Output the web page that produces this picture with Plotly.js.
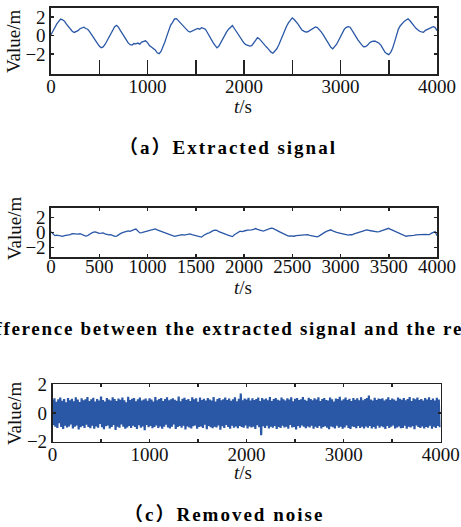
<!DOCTYPE html>
<html>
<head>
<meta charset="utf-8">
<script src="https://cdn.plot.ly/plotly-3.0.1.min.js"></script>
<style>
html,body{margin:0;padding:0;background:#fff;}
#chart{width:461px;height:527px;}
</style>
</head>
<body>
<div id="chart"></div>
<script>
// ---- data ----
const dtA = 20; // s, sampling step of panel (a)
const extractedSignal = [
 0.10,0.52,0.85,1.28,1.55,1.80,1.72,1.58,1.25,0.95,
 0.72,0.48,0.35,0.42,0.55,0.75,0.85,0.92,0.78,0.70,
 0.45,0.18,-0.18,-0.50,-0.85,-1.12,-1.30,-1.22,-0.95,-0.58,
 -0.15,0.30,0.68,0.98,1.12,0.90,0.55,0.20,-0.20,-0.52,
 -0.78,-0.98,-1.02,-0.85,-0.88,-0.80,-0.92,-0.70,-0.62,-0.55,
 -0.75,-1.08,-1.22,-1.38,-1.55,-1.85,-1.95,-1.70,-1.25,-0.68,
 -0.05,0.60,1.15,1.45,1.82,1.85,1.62,1.38,1.12,0.88,
 0.68,0.50,0.40,0.48,0.62,0.72,0.78,0.70,0.86,0.80,
 0.70,0.35,-0.05,-0.42,-0.75,-1.05,-1.32,-1.12,-0.72,-0.30,
 0.05,0.42,0.70,0.95,1.10,0.78,0.45,0.12,-0.25,-0.55,
 -0.80,-0.98,-1.05,-1.12,-1.08,-0.80,-0.55,-0.22,-0.35,-0.62,
 -0.85,-1.08,-1.30,-1.55,-1.78,-1.90,-1.70,-1.42,-1.00,-0.45,
 0.05,0.55,1.00,1.38,1.72,1.92,1.75,1.52,1.25,0.92,
 0.62,0.50,0.40,0.42,0.55,0.72,0.82,0.95,0.88,0.70,
 0.42,0.12,-0.20,-0.60,-0.95,-1.25,-1.42,-1.18,-0.92,-0.52,
 -0.10,0.32,0.70,0.90,0.98,0.92,0.62,0.30,-0.10,-0.45,
 -0.75,-1.00,-1.20,-1.18,-1.05,-0.78,-0.65,-0.58,-0.60,-0.68,
 -0.82,-1.05,-1.40,-1.78,-1.95,-2.05,-1.80,-1.35,-0.70,0.05,
 0.72,1.08,1.35,1.55,1.70,1.82,1.62,1.35,1.05,0.82,
 0.65,0.48,0.42,0.38,0.58,0.70,0.78,0.88,0.98,0.90,
 0.55
];

const dtB = 20;
const differenceSignal = [
 0.10,-0.20,-0.42,-0.36,-0.40,-0.50,-0.52,-0.41,-0.38,-0.30,
 -0.28,-0.15,-0.18,-0.26,-0.22,-0.17,-0.25,-0.38,-0.48,-0.42,
 -0.30,-0.08,0.05,0.08,-0.02,-0.12,-0.10,-0.07,-0.18,-0.30,
 -0.32,-0.28,-0.40,-0.52,-0.48,-0.26,-0.15,-0.02,0.05,0.15,
 0.22,0.16,0.30,0.38,0.45,0.18,-0.05,-0.02,0.05,0.12,
 0.15,0.26,0.30,0.36,0.48,0.35,0.25,0.20,0.12,0.02,
 -0.15,-0.22,-0.35,-0.46,-0.52,-0.45,-0.42,-0.30,-0.28,-0.36,
 -0.30,-0.22,-0.20,-0.30,-0.35,-0.40,-0.48,-0.55,-0.62,-0.40,
 -0.22,-0.12,-0.05,0.12,0.25,0.32,0.28,0.10,-0.02,-0.12,
 -0.25,-0.30,-0.38,-0.48,-0.55,-0.30,-0.10,0.06,0.18,0.12,
 0.22,0.26,0.30,0.28,0.35,0.42,0.52,0.40,0.38,0.26,
 0.18,0.30,0.40,0.50,0.58,0.55,0.45,0.32,0.15,0.02,
 -0.10,-0.22,-0.35,-0.48,-0.45,-0.52,-0.50,-0.42,-0.40,-0.33,
 -0.30,-0.36,-0.32,-0.30,-0.38,-0.45,-0.48,-0.52,-0.58,-0.45,
 -0.25,-0.08,0.05,0.18,0.28,0.35,0.20,0.08,0.02,-0.04,
 -0.10,-0.18,-0.25,-0.34,-0.35,-0.28,-0.30,-0.18,-0.12,-0.02,
 0.05,0.15,0.22,0.30,0.35,0.26,0.20,0.10,0.05,0.08,
 0.10,0.18,0.25,0.36,0.45,0.55,0.40,0.28,0.15,0.05,
 -0.08,-0.22,-0.30,-0.42,-0.50,-0.44,-0.45,-0.40,-0.38,-0.32,
 -0.30,-0.24,-0.20,-0.26,-0.25,-0.30,-0.30,-0.12,-0.05,0.10,
 -0.42
];

const dtC = 10;
const removedNoise = [
 0.92,-0.85,1.02,-0.96,0.78,-1.05,0.95,-0.72,1.08,-0.98,0.85,-1.12,0.97,-0.88,0.74,-1.01,1.05,-0.93,0.88,-0.79,
 0.99,-1.08,0.82,-0.95,1.10,-0.86,0.93,-1.15,0.76,-0.99,1.03,-0.90,0.89,-1.04,0.96,-0.81,1.12,-0.97,0.84,-1.06,
 0.95,-0.89,1.06,-1.10,0.80,-0.94,0.98,-1.02,0.87,-0.76,1.15,-0.99,0.91,-1.13,0.79,-0.92,1.04,-0.87,0.94,-1.07,
 0.86,-0.98,1.09,-0.84,0.97,-1.18,0.83,-0.95,1.01,-1.03,0.92,-0.80,1.07,-0.96,0.88,-1.09,0.75,-1.00,1.13,-0.91,
 0.90,-1.05,0.99,-0.88,1.04,-0.97,0.81,-1.11,0.96,-0.85,1.08,-1.02,0.87,-0.94,0.93,-1.20,1.00,-0.83,0.85,-0.99,
 1.02,-0.91,0.94,-1.06,0.79,-0.98,1.11,-0.87,0.89,-1.04,0.98,-0.93,1.05,-1.10,0.83,-0.96,0.97,-0.82,1.09,-1.01,
 0.88,-1.08,0.96,-0.95,1.03,-0.79,0.92,-1.12,0.85,-0.97,1.14,-0.90,0.81,-1.03,0.99,-0.88,1.06,-1.15,0.90,-0.94,
 0.97,-1.00,0.84,-1.07,1.10,-0.92,0.95,-0.86,1.02,-1.09,0.78,-0.98,1.07,-0.93,0.91,-1.04,0.99,-0.81,0.87,-1.13,
 1.05,-0.90,0.93,-0.99,0.86,-1.06,1.12,-0.95,0.80,-1.01,0.98,-0.87,1.04,-1.17,0.89,-0.92,0.95,-1.05,1.08,-0.84,
 0.91,-0.97,1.00,-1.10,0.85,-0.89,0.96,-1.02,1.09,-0.94,0.82,-1.06,0.99,-0.91,1.36,-0.98,0.88,-1.03,1.01,-0.86,
 0.94,-1.08,1.06,-0.93,0.87,-1.00,1.03,-0.96,0.90,-1.11,0.97,-0.85,1.08,-0.99,0.83,-1.55,1.05,-0.92,0.93,-1.04,
 1.00,-0.88,0.89,-1.07,1.11,-0.95,0.84,-1.02,0.98,-0.90,1.04,-1.12,0.92,-0.97,0.86,-1.05,1.07,-0.89,0.95,-1.01,
 0.87,-0.96,1.02,-1.09,0.93,-0.84,1.09,-1.00,0.81,-0.98,0.99,-1.14,1.05,-0.91,0.90,-1.03,0.96,-0.87,1.12,-0.95,
 0.92,-1.06,0.85,-0.93,1.06,-1.01,0.97,-0.88,0.88,-1.10,1.03,-0.96,0.94,-1.04,1.10,-0.90,0.83,-1.08,0.98,-0.97,
 1.04,-0.92,0.91,-1.03,0.86,-1.13,1.08,-0.94,0.95,-0.99,0.80,-1.07,1.01,-0.89,0.97,-1.02,1.13,-0.95,0.87,-1.09,
 0.95,-1.00,1.07,-0.86,0.90,-1.05,0.99,-1.11,0.84,-0.93,1.05,-0.98,0.92,-1.06,1.02,-0.91,0.88,-1.04,1.09,-0.96,
 0.89,-1.08,0.98,-0.94,1.04,-1.02,1.22,-0.90,0.93,-1.07,0.86,-0.97,1.06,-1.10,0.91,-0.88,1.00,-1.03,0.97,-0.92,
 1.03,-0.99,0.87,-1.12,0.96,-0.91,1.10,-1.05,0.90,-0.96,1.01,-0.87,0.94,-1.08,0.85,-1.00,1.07,-0.93,0.99,-1.06,
 0.92,-1.04,1.05,-0.89,0.88,-1.09,0.97,-0.95,1.11,-1.01,0.83,-0.92,1.02,-1.13,0.95,-0.86,1.08,-0.98,0.90,-1.05,
 0.98,-0.93,0.86,-1.07,1.04,-0.97,0.93,-1.02,1.09,-0.88,0.91,-1.10,1.00,-0.95,0.87,-1.04,1.06,-0.90,0.94,-0.99
];

const xTickVals = [0,500,1000,1500,2000,2500,3000,3500,4000];
const xTickTextSparse = ['0','','1000','','2000','','3000','','4000'];
const xTickTextFull = ['0','500','1000','1500','2000','2500','3000','3500','4000'];
const yTickVals = [-2,0,2];

const yTitle = 'Value/m';
const xTitle = '<i>t</i>/s';
const captions = ['（a）Extracted signal',
  '（b）Difference between the extracted signal and the real signal',
  '（c）Removed noise'];

// ---- build ----
const W = 461, H = 527;
const FONT = '"Liberation Serif", "Times New Roman", Times, serif';
const LINE = '#2a57a6';
const AX = '#222';
function times(n, dt){ const t=[]; for(let i=0;i<n;i++) t.push(i*dt); return t; }
function px(x){ return x/W; }
function py(y){ return 1 - y/H; }

const traces = [
  {x: times(extractedSignal.length, dtA), y: extractedSignal, xaxis:'x', yaxis:'y', type:'scatter', mode:'lines', line:{color:LINE, width:1.3}},
  {x: times(differenceSignal.length, dtB), y: differenceSignal, xaxis:'x2', yaxis:'y2', type:'scatter', mode:'lines', line:{color:LINE, width:1.3}},
  {x: times(removedNoise.length, dtC), y: removedNoise, xaxis:'x3', yaxis:'y3', type:'scatter', mode:'lines', line:{color:LINE, width:2.2}}
];

const tickfont = {family: FONT, size: 19, color: '#111'};
function xAx(dom, anchor, text, ticklen, standoff){
  return {domain: dom, anchor: anchor, range: [0,4000], tickmode:'array', tickvals: xTickVals, ticktext: text,
    ticks:'inside', ticklen: ticklen, tickwidth:1.5, tickcolor: AX, showline:true, linecolor: AX, linewidth:1.6,
    mirror: ticklen > 5 ? true : 'ticks', showgrid:false, zeroline:false, tickfont: tickfont, fixedrange:true,
    ticklabelstandoff: standoff};
}
function yAx(dom, anchor, range){
  return {domain: dom, anchor: anchor, range: range, tickmode:'array', tickvals: yTickVals,
    ticks:'inside', ticklen:3, tickwidth:1.5, tickcolor: AX, showline:true, linecolor: AX, linewidth:1.6,
    mirror:'ticks', showgrid:false, zeroline:false, tickfont: tickfont, fixedrange:true};
}
const domAx = [px(51), px(437)];
const domCx = [px(52.5), px(440.7)];

const layout = {
  width: W, height: H, margin:{l:0,r:0,t:0,b:0}, showlegend:false,
  paper_bgcolor:'#fff', plot_bgcolor:'#fff', font:{family: FONT, color:'#111'},
  xaxis: xAx(domAx, 'y', xTickTextSparse, 14, -5),
  xaxis4: {overlaying:'x', side:'top', anchor:'y', range:[0,4000], tickmode:'array', tickvals: xTickVals,
    ticks:'inside', ticklen:3, tickwidth:1.5, tickcolor: AX, showticklabels:false, showline:false,
    showgrid:false, zeroline:false, fixedrange:true},
  yaxis: yAx([py(74), py(8)], 'x', [-4.15, 3.0]),
  xaxis2: xAx(domAx, 'y2', xTickTextFull, 3, -9),
  yaxis2: yAx([py(257.3), py(208)], 'x2', [-3.3, 3.25]),
  xaxis3: xAx(domCx, 'y3', xTickTextSparse, 3, -5),
  yaxis3: yAx([py(441.7), py(384.3)], 'x3', [-2, 2]),
  annotations: []
};
const titleFont = {family: FONT, size: 19, color:'#111'};
[[41],[228],[413]].forEach(function(p){
  layout.annotations.push({xref:'paper', yref:'paper', x: px(14), y: py(p[0]), text: yTitle, textangle:-90,
    showarrow:false, xanchor:'center', yanchor:'middle', font: titleFont});
});
[[107],[287],[472]].forEach(function(p){
  layout.annotations.push({xref:'paper', yref:'paper', x: px(243), y: py(p[0]), text: xTitle,
    showarrow:false, xanchor:'center', yanchor:'middle', font: titleFont});
});
const capFont = {family: FONT + ', "Noto Sans CJK SC"', size: 19, color:'#000', weight: 'bold'};
[[228,147],[232,328],[224,514]].forEach(function(p, i){
  layout.annotations.push({xref:'paper', yref:'paper', x: px(p[0]), y: py(p[1]), text: '<b>'+captions[i]+'</b>',
    showarrow:false, xanchor:'center', yanchor:'middle', font: capFont});
});

Plotly.newPlot('chart', traces, layout, {staticPlot:true, displayModeBar:false}).then(function(){
  document.querySelectorAll('.annotation-text').forEach(function(el){
    const t = el.textContent;
    if (t.indexOf('（') === 0) el.style.letterSpacing = (t.indexOf('（b') === 0) ? '1.7px' : '2px';
  });
});
</script>
</body>
</html>
